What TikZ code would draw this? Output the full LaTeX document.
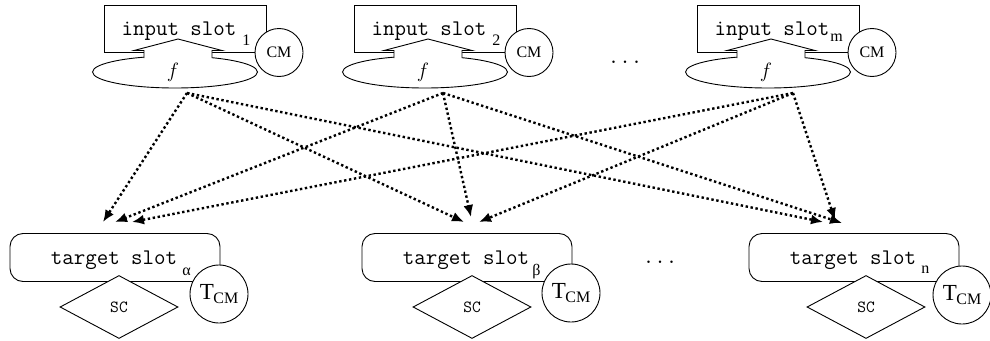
\documentclass[tikz,border=0pt]{standalone}
\usepackage{fontspec}
\setmainfont{Liberation Serif}
\usetikzlibrary{shapes.geometric,arrows.meta}
\newcommand\ingrp[5]{%
  \node[inbox] (#1r) at (#2+10,28.5) {};
  \node[fell] (#1e) at (#2,72) {};
  \fill[white] (#2-41,50.5) -- (#2+3,39) -- (#2+47,50.5) -- (#2+37,50.5) -- (#2+37,60) -- (#2-31,60) -- (#2-31,50.5) -- cycle;
  \draw (#2-31,58) -- (#2-31,50.5) -- (#2-41,50.5) -- (#2+3,39) -- (#2+47,50.5) -- (#2+37,50.5) -- (#2+37,58);
  \node[cmcirc] (#1c) at (#2+104,52.5) {CM};
  \node[lbltext, anchor=base] (#1t) at (#2+4,35) {input slot};
  \node[subtext, anchor=base west] (#1s) at (#4,#5) {#3};
  \node[inner sep=0pt, font=\fontsize{22}{22}\selectfont] (#1f) at (#2-2,72) {$f$};
}
\newcommand\tgrp[8]{%
  \node[tbox] (#1r) at (#2,257.5) {};
  \node[lbltext, anchor=base] (#1t) at (#2-1,264) {target slot};
  \node[subtext, anchor=base west] (#1s) at (#4,#5) {#3};
  \node[scdiam] (#1d) at (#8,307) {SC};
  \node[tcmcirc] (#1c) at (#6,#7) {{\fontsize{23}{23}\selectfont T}\kern-0.5pt\raisebox{-4.5pt}{\fontsize{16}{16}\selectfont CM}};
}
\begin{document}
\begin{tikzpicture}[x=1pt,y=-1pt, line width=0.9pt,
  inbox/.style={draw, minimum width=162pt, minimum height=47pt, inner sep=0pt},
  fell/.style={ellipse, draw, minimum width=165pt, minimum height=32pt, inner sep=0pt},
  cmcirc/.style={circle, draw, fill=white, minimum size=48pt, inner sep=0pt, font=\fontsize{16}{16}\selectfont},
  tbox/.style={draw, rounded corners=13pt, minimum width=210pt, minimum height=48pt, inner sep=0pt},
  tcmcirc/.style={circle, draw, fill=white, minimum size=58pt, inner sep=0pt},
  scdiam/.style={diamond, aspect=1.87, draw, fill=white, minimum width=118pt, minimum height=63pt, inner sep=0pt, font=\fontsize{17}{17}\ttfamily},
  lbltext/.style={inner sep=0pt, font=\fontsize{22.3}{22.3}\ttfamily},
  subtext/.style={inner sep=0pt, font=\fontsize{16}{16}\selectfont},
  flow/.style={line width=2.4pt, dash pattern=on 2.4pt off 2.6pt, -{Latex[length=12pt,width=10pt]}}
]
\useasboundingbox (0,0) rectangle (990,340);

\ingrp{g1}{175}{1}{242}{45}
\ingrp{g2}{425}{2}{492}{45}
\ingrp{g3}{768}{m}{830}{41}

\tgrp{t1}{115}{α}{182}{275}{219}{294}{119}
\tgrp{t2}{467}{β}{532}{275}{571}{293}{472}
\tgrp{t3}{854}{n}{921}{273}{962}{295}{866}

\node[lbltext] (dtop) at (625,62) {...};
\node[lbltext] (dbot) at (660,262) {...};

\coordinate (s1) at (187,93);
\coordinate (s2) at (443,93);
\coordinate (s3) at (793,93);

\coordinate (a11) at (103,222);
\coordinate (a21) at (115,222);
\coordinate (a31) at (132,222);
\coordinate (a12) at (464,222);
\coordinate (a22) at (471,217);
\coordinate (a32) at (479,222);
\coordinate (a13) at (823,222);
\coordinate (a23) at (842,223);
\coordinate (a33) at (835,220);

\foreach \s in {1,2,3}{
  \foreach \t in {1,2,3}{
    \draw[flow] (s\s) -- (a\s\t);
  }
}
\end{tikzpicture}
\end{document}
